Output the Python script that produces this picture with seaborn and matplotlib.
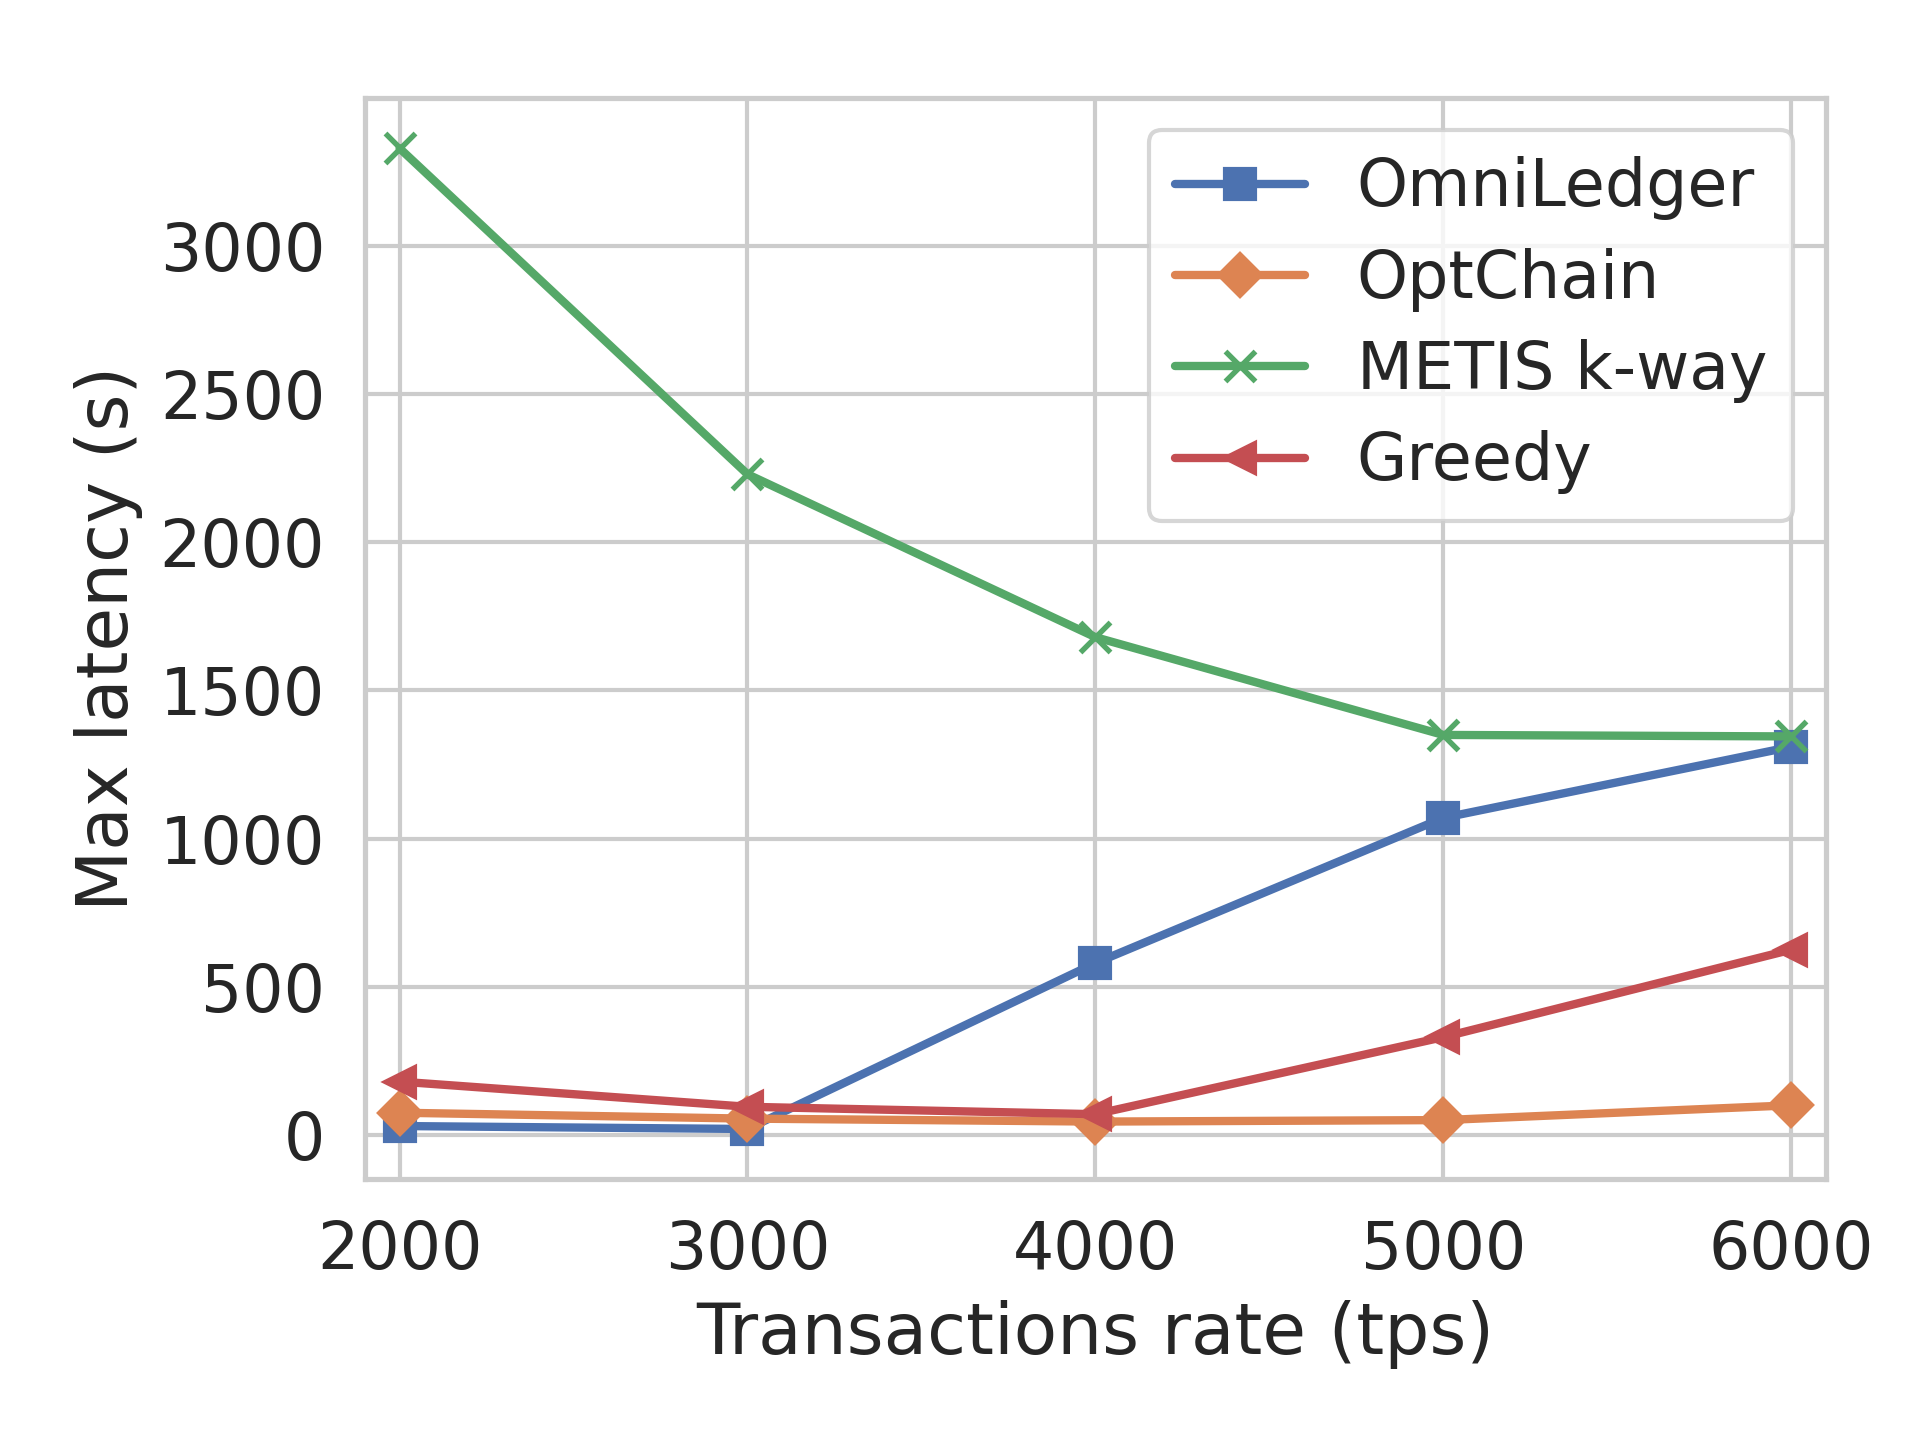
import numpy as np
import pandas as pd
import matplotlib
matplotlib.use("Agg")
import matplotlib.pyplot as plt
import seaborn as sns

rates = [2000, 3000, 4000, 5000, 6000]
omniledger = [30, 20, 580, 1070, 1310]
optchain = [75, 55, 45, 50, 100]
metis = [3330, 2230, 1680, 1350, 1345]
greedy = [180, 95, 70, 330, 625]

series = {
    'OmniLedger': (omniledger, 's'),
    'OptChain': (optchain, 'D'),
    'METIS k-way': (metis, 'x'),
    'Greedy': (greedy, '<'),
}

sns.set_theme(style="whitegrid", font_scale=1.42)
palette = sns.color_palette("deep")

fig, ax = plt.subplots(figsize=(6.4, 4.8))
for i, (name, (vals, marker)) in enumerate(series.items()):
    sns.lineplot(x=rates, y=vals, ax=ax, label=name, color=palette[i],
                 marker=marker, markersize=7, linewidth=2,
                 markeredgecolor=palette[i] if marker != 'x' else None,
                 markeredgewidth=1 if marker != 'x' else 1.3)

ax.set_xlabel('Transactions rate (tps)')
ax.set_ylabel('Max latency (s)')
ax.set_xticks(rates)
ax.set_yticks([0, 500, 1000, 1500, 2000, 2500, 3000])
ax.set_xlim(1900, 6100)
ax.set_ylim(-150, 3500)
for s in ax.spines.values():
    s.set_color('#cccccc')
    s.set_linewidth(1.25)
ax.legend(loc='upper right', handlelength=2.0, borderpad=0.4, labelspacing=0.42)
fig.subplots_adjust(left=0.19, right=0.951, top=0.932, bottom=0.181)
fig.savefig('out.png', dpi=300)
